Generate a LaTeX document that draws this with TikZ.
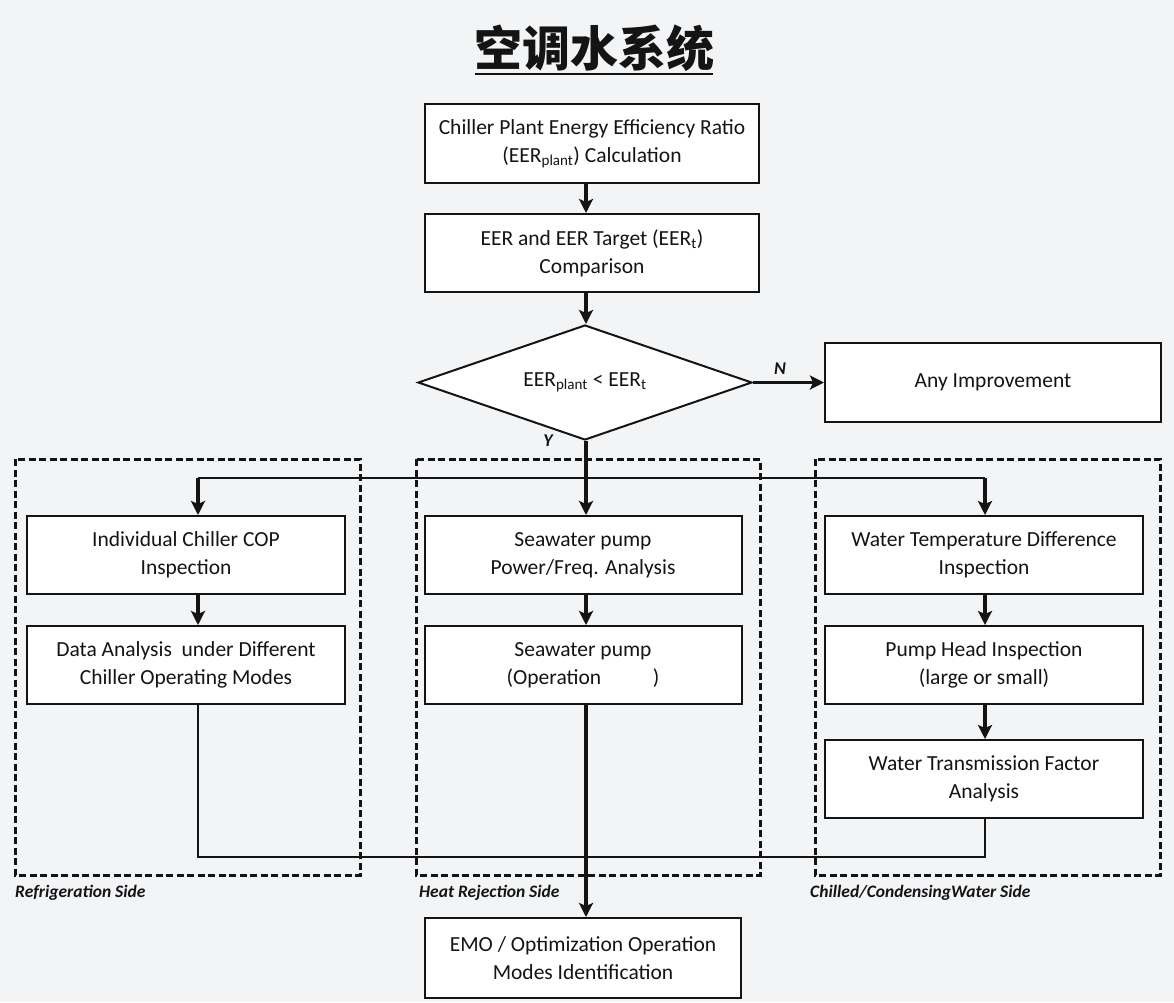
\documentclass[tikz,border=0pt]{standalone}
\usepackage{fontspec}
\setmainfont{Carlito}
\newfontfamily\cjk{Noto Sans CJK SC}
\usetikzlibrary{shapes.geometric,arrows.meta}
\definecolor{bgc}{HTML}{F3F4F6}
\definecolor{ink}{HTML}{141414}
\begin{document}
\begin{tikzpicture}[x=1pt,y=-1pt,
  box/.style={draw=ink, line width=2pt, fill=white, inner sep=0pt, align=center,
    minimum height=78pt, text=ink, font=\fontsize{21.5}{28}\selectfont},
  grp/.style={draw=ink, line width=3pt, dash pattern=on 7pt off 3.5pt},
  arr/.style={draw=ink, line width=3.4pt, -{Stealth[length=14pt,width=14pt,inset=3pt]}},
  thinline/.style={draw=ink, line width=1.6pt},
  lab/.style={text=ink, font=\fontsize{17.5}{20}\selectfont\bfseries\itshape, inner sep=0pt},
  yn/.style={text=ink, font=\fontsize{18}{20}\selectfont\bfseries\itshape, inner sep=0pt}]
\useasboundingbox (0,0) rectangle (1174,1002);
\fill[bgc] (0,0) rectangle (1174,1002);
% title
\node[text=ink, font=\cjk\bfseries\fontsize{48}{54}\selectfont, inner sep=0pt] (title) at (594,48) {空调水系统};
\draw[ink, line width=2.4pt] (475,74) -- (713,74);
% groups
\draw[grp] (15,459) rectangle (360,875);
\draw[grp] (416,459) rectangle (760,875);
\draw[grp] (815,459) rectangle (1160,875);
% top boxes
\node[box, minimum width=334pt, minimum height=79pt] (b1) at (592,143.5) {Chiller Plant Energy Efficiency Ratio\\(EER\textsubscript{plant}) Calculation};
\node[box, minimum width=334pt] (b2) at (592,253) {EER and EER Target (EER\textsubscript{t})\\Comparison};
\node[draw=ink, line width=2pt, fill=white, diamond, aspect=2.9, minimum width=334pt, minimum height=115pt, inner sep=0pt, text=ink, font=\fontsize{21.5}{28}\selectfont] (dia) at (585,382.5) {EER\textsubscript{plant} < EER\textsubscript{t}};
\node[box, minimum width=336pt, minimum height=79pt] (any) at (993,382.5) {Any Improvement};
% columns
\node[box, minimum width=318pt] (A) at (186,555) {Individual Chiller COP\\Inspection};
\node[box, minimum width=318pt] (B) at (186,665) {Data Analysis\ \ under Different\\Chiller Operating Modes};
\node[box, minimum width=317pt] (C) at (583,555) {Seawater pump\\Power/Freq. Analysis};
\node[box, minimum width=317pt] (D) at (583,665) {Seawater pump\\(Operation\hspace{2.4em})};
\node[box, minimum width=318pt] (E) at (984,555) {Water Temperature Difference\\Inspection};
\node[box, minimum width=318pt] (F) at (984,665) {Pump Head Inspection\\(large or small)};
\node[box, minimum width=318pt] (G) at (984,779) {Water Transmission Factor\\Analysis};
\node[box, minimum width=316pt, minimum height=80pt] (emo) at (583,958) {EMO / Optimization Operation\\Modes Identification};
% labels
\node[lab, anchor=west] (l1) at (15,893) {Refrigeration Side};
\node[lab, anchor=west] (l2) at (419,893) {Heat Rejection Side};
\node[lab, anchor=west] (l3) at (810,893) {Chilled/CondensingWater Side};
% connectors
\coordinate (jL) at (198,478);
\coordinate (jR) at (985,478);
\coordinate (bL) at (198,857);
\coordinate (bR) at (985,857);
\coordinate (mx) at (586,0);
\draw[arr] (b1.south -| mx) -- (b2.north -| mx);
\draw[arr] (b2.south -| mx) -- (dia.north -| mx);
\draw[arr] (dia.east) -- (any.west) node[yn, pos=0.38, above=6pt] {N};
\node[yn] (ylab) at (548,441) {Y};
\draw[thinline] (jL) -- (jR);
\draw[arr] (dia.south -| mx) -- (C.north -| mx);
\draw[arr] (jL) -- (A.north -| jL);
\draw[arr] (jR) -- (E.north -| jR);
\draw[arr] (A.south -| jL) -- (B.north -| jL);
\draw[arr] (C.south -| mx) -- (D.north -| mx);
\draw[arr] (E.south -| jR) -- (F.north -| jR);
\draw[arr] (F.south -| jR) -- (G.north -| jR);
\draw[thinline] (B.south -| jL) -- (bL) -- (bR) -- (G.south -| jR);
\draw[arr] (D.south -| mx) -- (emo.north -| mx);
\end{tikzpicture}
\end{document}
